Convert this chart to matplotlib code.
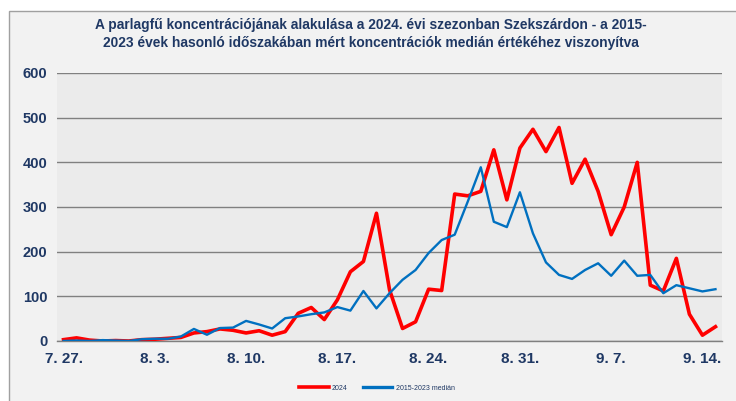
import matplotlib
matplotlib.use("Agg")
import matplotlib.pyplot as plt
from matplotlib.patches import Rectangle
from matplotlib.lines import Line2D

# ---- data ----
dates = ["7. 27.", "8. 3.", "8. 10.", "8. 17.", "8. 24.", "8. 31.", "9. 7.", "9. 14."]
tick_idx = [0, 7, 14, 21, 28, 35, 42, 49]
red_2024 = [3, 7, 2, 0, 1, 0, 3, 4, 6, 8, 18, 21, 27, 24, 18, 23, 13, 21, 62, 75,
            48, 92, 155, 178, 286, 115, 28, 43, 116, 113, 329, 325, 335, 428, 316,
            432, 474, 424, 478, 353, 407, 335, 238, 300, 400, 125, 112, 185, 60, 13, 32]
median_15_23 = [0, 1, 0, 2, 1, 0, 4, 5, 5, 10, 27, 14, 29, 30, 45, 37, 28, 51, 55, 60,
                64, 76, 68, 112, 73, 107, 137, 159, 197, 226, 238, 312, 389, 267, 255,
                333, 241, 176, 148, 139, 159, 174, 146, 180, 146, 148, 107, 125, 118, 111, 116]
yticks = [0, 100, 200, 300, 400, 500, 600]
title = ("A parlagfű koncentrációjának alakulása a 2024. évi szezonban Szekszárdon - a 2015-\n"
         "2023 évek hasonló időszakában mért koncentrációk medián értékéhez viszonyítva")
legend_labels = ["2024", "2015-2023 medián"]

base = "Liberation Sans"
navy = "#1F3864"

W, H = 736, 401
fig = plt.figure(figsize=(W / 100, H / 100), dpi=100, facecolor="white")

# outer frame
fig.patches.append(Rectangle((9 / W, -0.01), 1.0, (H - 11) / H + 0.01, transform=fig.transFigure,
                             facecolor="#F2F2F2", edgecolor="#A0A0A0", linewidth=1.0, zorder=-10))

ax = fig.add_axes([57 / W, (H - 341) / H, (722 - 57) / W, (341 - 73) / H])
ax.set_zorder(1)
ax.set_facecolor("#EBEBEB")
x = list(range(len(red_2024)))
ax.plot(x, red_2024, color="#FF0000", lw=2.6, zorder=3)
ax.plot(x, median_15_23, color="#0070C0", lw=1.7, zorder=4)
ax.set_xlim(-0.5, len(red_2024) - 0.5)
ax.set_ylim(0, 600)
ax.set_yticks(yticks)
ax.yaxis.grid(True, color="#808080", lw=1.0)
ax.set_axisbelow(True)
for s in ["left", "right", "top"]:
    ax.spines[s].set_visible(False)
ax.spines["bottom"].set_color("#808080")
ax.spines["bottom"].set_linewidth(1.0)
ax.set_xticks(tick_idx)
ax.set_xticklabels(dates)
ax.tick_params(axis="both", length=0)
ax.tick_params(axis="y", pad=7)
ax.tick_params(axis="x", pad=8)
for lab in ax.get_yticklabels():
    lab.set_fontfamily(base); lab.set_fontweight("bold"); lab.set_fontsize(10.5); lab.set_color(navy)
for lab in ax.get_xticklabels():
    lab.set_fontfamily(base); lab.set_fontweight("bold"); lab.set_fontsize(11); lab.set_color(navy)

fig.text(371 / W, 1 - 34 / H, title, ha="center", va="center", fontsize=9.9,
         fontweight="bold", family=base, color=navy, linespacing=1.3)

leg = fig.legend([Line2D([], [], color="#FF0000", lw=2.6), Line2D([], [], color="#0070C0", lw=2.4)],
                 legend_labels, loc="center", bbox_to_anchor=(377 / W, 1 - 388 / H), ncol=2,
                 frameon=False, handlelength=4.2, columnspacing=2.2,
                 handletextpad=0.5, prop={"family": base, "size": 5})
for t in leg.get_texts():
    t.set_color(navy)

fig.savefig("out.png", dpi=100, facecolor="white")
